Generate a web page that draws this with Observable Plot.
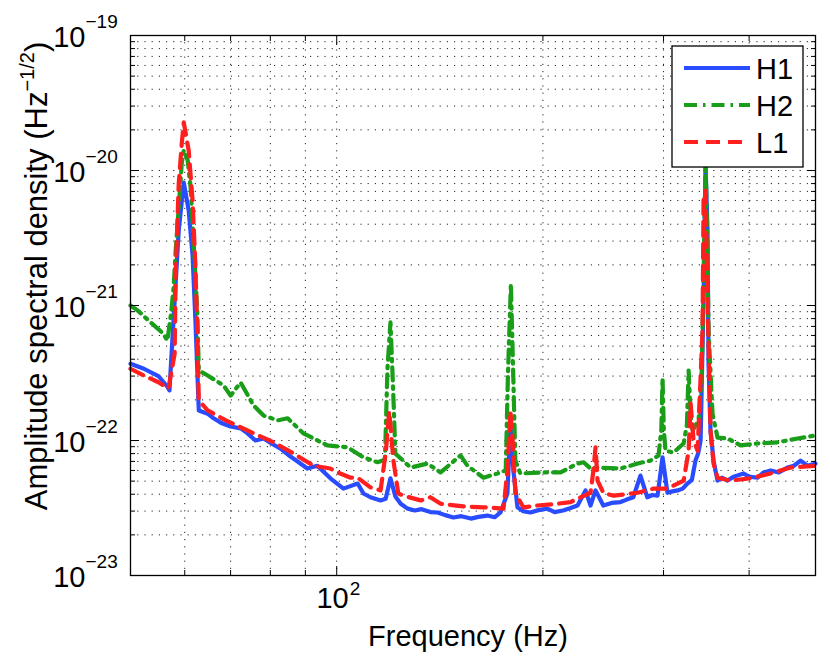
<!DOCTYPE html>
<html>
<head>
<meta charset="utf-8">
<script src="https://cdn.jsdelivr.net/npm/d3@7"></script>
<script src="https://cdn.jsdelivr.net/npm/@observablehq/plot@0.6"></script>
<style>
  html, body { margin: 0; padding: 0; background: #fff; }
  #chart { width: 830px; height: 661px; }
</style>
</head>
<body>
<div id="chart"></div>
<script>
// ---- data ----
const h1Freq = [50, 52.3, 55, 56.6, 57.0, 58.0, 58.8, 59.8, 60.8, 61.6, 62.2, 62.9, 64.8, 66.1, 68, 70, 72.4, 74.1, 76.1, 78.2, 80.9, 82.8, 85.6, 88, 90.6, 93.7, 95.6, 97.9, 102.3, 107.3, 109.4, 112, 115.9, 117.9, 119.8, 121.8, 124, 126.9, 130, 133, 137, 140.4, 144, 148, 152, 157, 161, 166, 170, 173.4, 177.5, 179.3, 181.1, 183.6, 187, 191.8, 197, 203, 208, 214, 219, 224.7, 230.8, 234.7, 238.7, 245, 252, 259.6, 265, 271, 277.6, 284, 289, 294, 299, 304, 309, 314.5, 320, 325, 330, 334, 337, 339.8, 343.2, 345.5, 347.8, 349, 351.3, 354.9, 359.7, 365, 372, 380, 392.6, 400, 411.5, 420, 430, 442, 455, 465, 475.5, 487, 500];
const h1Asd = [3.7e-22, 3.4e-22, 2.98e-22, 2.5e-22, 2.35e-22, 1.09e-21, 3.6e-21, 8.15e-21, 5.06e-21, 2.35e-21, 7.7e-22, 1.67e-22, 1.58e-22, 1.46e-22, 1.34e-22, 1.27e-22, 1.23e-22, 1.13e-22, 1.0e-22, 1.035e-22, 9.3e-23, 8.7e-23, 7.6e-23, 6.9e-23, 6.2e-23, 6.5e-23, 5.9e-23, 5.25e-23, 4.4e-23, 4.8e-23, 4.05e-23, 3.8e-23, 3.6e-23, 3.7e-23, 5.25e-23, 3.85e-23, 3.4e-23, 3.13e-23, 3.03e-23, 3.1e-23, 2.95e-23, 2.93e-23, 2.8e-23, 2.69e-23, 2.75e-23, 2.64e-23, 2.72e-23, 2.78e-23, 2.7e-23, 2.93e-23, 4.05e-23, 1.3e-22, 6e-23, 3.2e-23, 3.0e-23, 2.93e-23, 3.05e-23, 3.13e-23, 2.95e-23, 3.03e-23, 3.15e-23, 3.3e-23, 4.27e-23, 3.3e-23, 4.27e-23, 3.3e-23, 3.45e-23, 3.5e-23, 3.65e-23, 3.8e-23, 5.5e-23, 3.8e-23, 3.95e-23, 3.9e-23, 7.5e-23, 4.1e-23, 4.2e-23, 4.27e-23, 4.4e-23, 4.8e-23, 5.1e-23, 7.1e-23, 8.0e-23, 1.0e-22, 1.15e-21, 1.09e-20, 3.6e-21, 3.7e-22, 1.19e-22, 7.1e-23, 5.05e-23, 5.3e-23, 5.05e-23, 5.4e-23, 5.7e-23, 5.4e-23, 5.3e-23, 5.8e-23, 6.0e-23, 5.8e-23, 6.3e-23, 6.5e-23, 7.1e-23, 6.5e-23, 6.75e-23];

const h2Freq = [50, 51.2, 53.5, 55.8, 56.6, 57.3, 57.8, 58.2, 58.8, 59.4, 59.8, 60.6, 61.2, 61.8, 62.6, 62.9, 64.8, 68.4, 70, 72.4, 75.6, 78.2, 82, 84.8, 89.4, 96.9, 103.7, 109.4, 114.7, 117.6, 118.6, 119.8, 120.8, 121.8, 128.2, 135.7, 141.8, 151.6, 155.2, 163.8, 171.7, 176.5, 177.8, 179.6, 181.1, 182.3, 185.4, 200.4, 212.2, 224.7, 229.3, 234.7, 240.3, 259.6, 274.9, 287.1, 295, 297.8, 299, 300.3, 302, 310.3, 320.9, 324.5, 326.4, 328.6, 330.8, 337.5, 341, 343.2, 345.5, 347.8, 349, 353.7, 359.7, 372, 388.6, 411.5, 440, 470.7, 500];
const h2Asd = [1.0e-21, 9.2e-22, 7.5e-22, 6.2e-22, 5.5e-22, 8.7e-22, 1.36e-21, 2.55e-21, 5.3e-21, 1.13e-20, 1.41e-20, 1.19e-20, 7.5e-21, 3.0e-21, 8.7e-22, 3.3e-22, 3.03e-22, 2.55e-22, 2.15e-22, 2.69e-22, 1.82e-22, 1.53e-22, 1.41e-22, 1.46e-22, 1.13e-22, 9.2e-23, 8.9e-23, 7.5e-23, 6.9e-23, 7.2e-23, 3.4e-22, 7.5e-22, 2.64e-22, 8.0e-23, 6.3e-23, 6.75e-23, 5.8e-23, 7.75e-23, 6.5e-23, 5.3e-23, 5.7e-23, 6.0e-23, 3.0e-22, 1.45e-21, 2.8e-22, 7.1e-23, 5.7e-23, 5.8e-23, 5.8e-23, 6.75e-23, 6.9e-23, 6.2e-23, 6.3e-23, 6.2e-23, 6.75e-23, 7.1e-23, 7.75e-23, 1.2e-22, 2.9e-22, 1.2e-22, 8.4e-23, 8.15e-23, 9.5e-23, 1.3e-22, 3.3e-22, 1.5e-22, 1.19e-22, 1.41e-22, 3e-22, 1.53e-21, 1.2e-20, 2.5e-21, 6.5e-22, 1.58e-22, 1.05e-22, 1.035e-22, 9.2e-23, 9.5e-23, 9.7e-23, 1.035e-22, 1.09e-22];

const l1Freq = [50, 52.3, 55, 56.8, 58.0, 58.2, 58.8, 59.4, 59.8, 60.8, 61.6, 62.2, 62.6, 62.9, 64.8, 68.9, 75.6, 80.9, 86.5, 92.5, 97.9, 100.3, 104.8, 107.3, 112, 115.9, 118, 119.3, 121, 123, 125.2, 132.6, 137, 141.8, 153, 163.8, 175.2, 177.5, 179.3, 181.1, 182.3, 187.3, 196.4, 210, 219.5, 234.7, 237, 238.7, 240.3, 245, 253.6, 274.9, 290, 304, 321, 326.4, 328.6, 331.9, 336.4, 342, 343.2, 345.5, 347.8, 351.3, 354.9, 359.7, 375.8, 401.9, 430, 460, 500];
const l1Asd = [3.4e-22, 3.03e-22, 2.69e-22, 2.43e-22, 4.4e-22, 1.73e-21, 8.0e-21, 1.58e-20, 2.27e-20, 1.41e-20, 6.0e-21, 1.91e-21, 6.2e-22, 1.98e-22, 1.67e-22, 1.41e-22, 1.13e-22, 9.7e-23, 8.0e-23, 6.5e-23, 6.2e-23, 5.8e-23, 5.3e-23, 5.3e-23, 4.5e-23, 4.27e-23, 8.4e-23, 1.65e-22, 7.1e-23, 4.05e-23, 3.9e-23, 3.6e-23, 3.8e-23, 3.4e-23, 3.25e-23, 3.2e-23, 3.13e-23, 6.0e-23, 1.65e-22, 8.4e-23, 4.05e-23, 3.2e-23, 3.3e-23, 3.4e-23, 3.5e-23, 4.1e-23, 6e-23, 8.9e-23, 5.05e-23, 4.1e-23, 3.9e-23, 4.1e-23, 4.4e-23, 4.4e-23, 5.05e-23, 8.4e-23, 1.88e-22, 1.0e-22, 8.4e-23, 6.5e-22, 6.3e-21, 7.1e-21, 1.15e-21, 1.19e-22, 6.75e-23, 5.3e-23, 5.05e-23, 5.25e-23, 5.7e-23, 6.3e-23, 6.5e-23];

const seriesNames = ["H1", "H2", "L1"];
const yTickValues = [1e-19, 1e-20, 1e-21, 1e-22, 1e-23];
const yTickExponents = ["\u221219", "\u221220", "\u221221", "\u221222", "\u221223"];
const xTickValues = [100];
const xTickExponents = ["2"];
const xMinor = [60, 70, 80, 90, 200, 300, 400];

// ---- derived tables ----
const toRows = (f, a) => f.map((v, i) => ({f: v, a: a[i]}));
const h1 = toRows(h1Freq, h1Asd);
const h2 = toRows(h2Freq, h2Asd);
const l1 = toRows(l1Freq, l1Asd);
const yMinor = [];
for (let e = -23; e < -19; e++) for (let m = 2; m <= 9; m++) yMinor.push(m * Math.pow(10, e));
const yTicks = yTickValues.map((v, i) => ({v, e: yTickExponents[i]}));
const xTicks = xTickValues.map((v, i) => ({v, e: xTickExponents[i]}));

const BLUE = "#2a4cff", GREEN = "#1a9e1a", RED = "#ff1f1f";
const DASH_H2 = "13,6,2.5,6", DASH_L1 = "14,8", LW = 4.2;
const FONT = "'Liberation Sans', Arial, Helvetica, sans-serif";
const gridStyle = {stroke: "#000", strokeWidth: 1, strokeDasharray: "1.2,6", strokeOpacity: 0.85};
const blank = () => "";

const chart = Plot.plot({
  width: 830,
  height: 661,
  marginLeft: 130,
  marginRight: 15,
  marginTop: 35,
  marginBottom: 86,
  style: {fontFamily: FONT, fontSize: "29px", background: "#fff", color: "#000", overflow: "visible"},
  x: {type: "log", domain: [50, 500]},
  y: {type: "log", domain: [1e-23, 1e-19]},
  marks: [
    Plot.ruleX([...xMinor, ...xTickValues], {x: d => d, ...gridStyle}),
    Plot.ruleY([...yMinor, ...yTickValues.slice(1, 4)], {y: d => d, ...gridStyle}),
    Plot.line(h1, {x: "f", y: "a", stroke: BLUE, strokeWidth: LW, strokeLinejoin: "round"}),
    Plot.line(h2, {x: "f", y: "a", stroke: GREEN, strokeWidth: LW, strokeDasharray: DASH_H2}),
    Plot.line(l1, {x: "f", y: "a", stroke: RED, strokeWidth: LW, strokeDasharray: DASH_L1}),
    Plot.frame({stroke: "#000", strokeWidth: 1.3}),
    // inward ticks on all four sides
    Plot.axisY({anchor: "left", ticks: yTickValues, tickSize: -9, tickFormat: blank, label: null}),
    Plot.axisY({anchor: "right", ticks: yTickValues, tickSize: -9, tickFormat: blank, label: null}),
    Plot.axisY({anchor: "left", ticks: yMinor, tickSize: -5, tickFormat: blank, label: null}),
    Plot.axisY({anchor: "right", ticks: yMinor, tickSize: -5, tickFormat: blank, label: null}),
    Plot.axisX({anchor: "bottom", ticks: xTickValues, tickSize: -9, tickFormat: blank, label: null}),
    Plot.axisX({anchor: "top", ticks: xTickValues, tickSize: -9, tickFormat: blank, label: null}),
    Plot.axisX({anchor: "bottom", ticks: xMinor, tickSize: -5, tickFormat: blank, label: null}),
    Plot.axisX({anchor: "top", ticks: xMinor, tickSize: -5, tickFormat: blank, label: null}),
    // power-of-ten tick labels
    Plot.text(yTicks, {y: "v", frameAnchor: "left", text: () => "10", textAnchor: "end", dx: -45, dy: 2, fontSize: 29, fill: "#000"}),
    Plot.text(yTicks, {y: "v", frameAnchor: "left", text: "e", textAnchor: "start", dx: -45, dy: -14, fontSize: 19, fill: "#000"}),
    Plot.text(xTicks, {x: "v", frameAnchor: "bottom", text: () => "10", textAnchor: "end", dx: 12, dy: 32, fontSize: 29, fill: "#000"}),
    Plot.text(xTicks, {x: "v", frameAnchor: "bottom", text: "e", textAnchor: "start", dx: 13, dy: 19, fontSize: 19, fill: "#000"})
  ]
});

document.getElementById("chart").appendChild(chart);

// ---- axis titles and legend ----
const svg = d3.select(chart);

svg.append("text")
  .attr("x", 468).attr("y", 646)
  .attr("text-anchor", "middle")
  .attr("font-family", FONT).attr("font-size", 29).attr("fill", "#000")
  .text("Frequency (Hz)");

const yl = svg.append("text")
  .attr("transform", "translate(47,276) rotate(-90)")
  .attr("text-anchor", "middle")
  .attr("font-family", FONT).attr("font-size", 31).attr("fill", "#000");
yl.append("tspan").text("Amplitude spectral density (Hz");
yl.append("tspan").attr("font-size", 20).attr("dy", -13).text("\u22121/2");
yl.append("tspan").attr("dy", 13).text(")");

const leg = svg.append("g");
leg.append("rect")
  .attr("x", 672).attr("y", 46).attr("width", 131).attr("height", 121)
  .attr("fill", "#fff").attr("stroke", "#000").attr("stroke-width", 1.3);
const legStyles = [
  {c: BLUE, d: null},
  {c: GREEN, d: DASH_H2},
  {c: RED, d: DASH_L1}
];
seriesNames.forEach((name, i) => {
  const y = 68 + i * 37;
  leg.append("line")
    .attr("x1", 684).attr("x2", 750).attr("y1", y).attr("y2", y)
    .attr("stroke", legStyles[i].c).attr("stroke-width", LW)
    .attr("stroke-dasharray", legStyles[i].d);
  leg.append("text")
    .attr("x", 756).attr("y", y + 10.5)
    .attr("text-anchor", "start")
    .attr("font-family", FONT).attr("font-size", 29).attr("fill", "#000")
    .text(name);
});
</script>
</body>
</html>
